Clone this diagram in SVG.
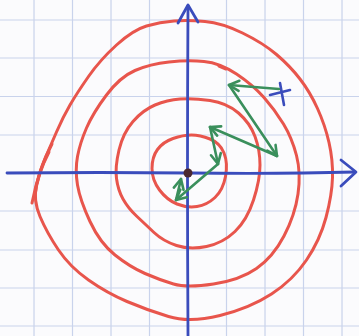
<svg xmlns="http://www.w3.org/2000/svg" width="359" height="336" viewBox="0 0 359 336">
<defs>
<style>
.grid{stroke:#c9d3ec;stroke-width:1.2;fill:none}
.axis{stroke:#3a4cbc;stroke-width:2.8;fill:none;stroke-linecap:round;stroke-linejoin:round}
.ring{stroke:#e8554c;stroke-width:3;fill:none;stroke-linecap:round}
.step{stroke:#3a8f5c;stroke-width:2.6;fill:none;stroke-linecap:round;marker-end:url(#ah)}
</style>
<marker id="ah" markerUnits="userSpaceOnUse" markerWidth="16" markerHeight="16" refX="12" refY="6" orient="auto" viewBox="0 0 16 12">
<path d="M2,1 L12,6 L2,11" fill="none" stroke="#3a8f5c" stroke-width="2.6" stroke-linecap="round" stroke-linejoin="round"/>
</marker>
</defs>
<rect width="359" height="336" fill="#fbfbfd"/>
<g id="grid" class="grid">
<path d="M34,0V336M72.5,0V336M111,0V336M149.5,0V336M226.5,0V336M265,0V336M303.5,0V336M342,0V336"/>
<path d="M0,20H359M0,58H359M0,96.5H359M0,135H359M0,211H359M0,250H359M0,288H359M0,326H359"/>
</g>
<g id="contours">
<path id="ring4" class="ring" d="M174,21 Q188,20 205,21.5 Q222,23 242.5,33 Q263,43 276.5,54.5 Q290,66 300,79 Q310,92 317.5,108.5 Q325,125 329,142.5 Q333,160 332.5,177.5 Q332,195 326,217.5 Q320,240 306.5,260 Q293,280 271.5,294 Q250,308 220,315.5 Q190,323 168.5,316.5 Q147,310 127,301.5 Q107,293 88.5,280 Q70,267 58.5,250 Q47,233 40,216.5 Q33,200 36.5,185 Q40,170 45,158.5 Q50,147 56.5,132 Q63,117 70,105 Q77,93 88.5,76.5 Q100,60 116.5,45 Q133,30 146.5,26 Q160,22 174,21 Z"/>
<path class="ring" d="M52,144 Q39,168 32,203"/>
<path class="ring" d="M49,152 Q37,175 35,196"/>
<path id="ring3" class="ring" d="M169,62 Q188,60 204,61.5 Q220,63 236.5,74 Q253,85 264,97.5 Q275,110 283.5,124 Q292,138 296.5,155.5 Q301,173 298,194 Q295,215 284,236 Q273,257 256.5,268.5 Q240,280 213.5,284 Q187,288 173.5,284 Q160,280 145,273.5 Q130,267 115,255 Q100,243 90,221.5 Q80,200 77.5,185 Q75,170 77.5,156.5 Q80,143 86.5,128 Q93,113 106.5,95 Q120,77 135,70.5 Q150,64 169,62 Z"/>
<path class="ring" d="M219,66 L226,69"/>
<path id="ring2" class="ring" d="M180,99 Q193,98 210,100.5 Q227,103 238.5,113 Q250,123 255,136.5 Q260,150 260,165 Q260,180 253.5,200 Q247,220 235,231.5 Q223,243 206.5,246.5 Q190,250 176.5,245.5 Q163,241 154,232.5 Q145,224 136.5,216 Q128,208 123,199 Q118,190 116.5,178.5 Q115,167 119,150 Q123,133 133,121.5 Q143,110 155,105 Q167,100 180,99 Z"/>
<path id="ring1" class="ring" d="M191.5,135 Q200,135 210,139 Q220,143 224,153 Q228,163 225.5,176.5 Q223,190 215,197.5 Q207,205 197,206.5 Q187,208 177,204 Q167,200 159.5,190 Q152,180 152,168.5 Q152,157 157.5,149.5 Q163,142 173,138.5 Q183,135 191.5,135 Z"/>
</g>
<g id="axes" class="axis">
<path d="M7,173 Q100,172 190,173 T355,172"/>
<path d="M341,160 L356,172 L341,186"/>
<path d="M188,6 Q187,170 188,336"/>
<path d="M178,23 L188,5 L198,22"/>
</g>
<circle id="minimum" cx="188" cy="173" r="4.5" fill="#4a2830"/>
<g id="start" class="axis" style="stroke-width:2.6">
<path d="M270,95 L290,90 M280,83 L284,105"/>
</g>
<g id="steps">
<line class="step" x1="279" y1="89" x2="229" y2="85"/>
<line class="step" x1="229" y1="85" x2="277" y2="156"/>
<line class="step" x1="277" y1="156" x2="210" y2="127"/>
<line class="step" x1="210" y1="127" x2="218" y2="164"/>
<line class="step" x1="218" y1="164" x2="176" y2="200"/>
<line class="step" x1="176" y1="200" x2="181" y2="179"/>
</g>
</svg>
